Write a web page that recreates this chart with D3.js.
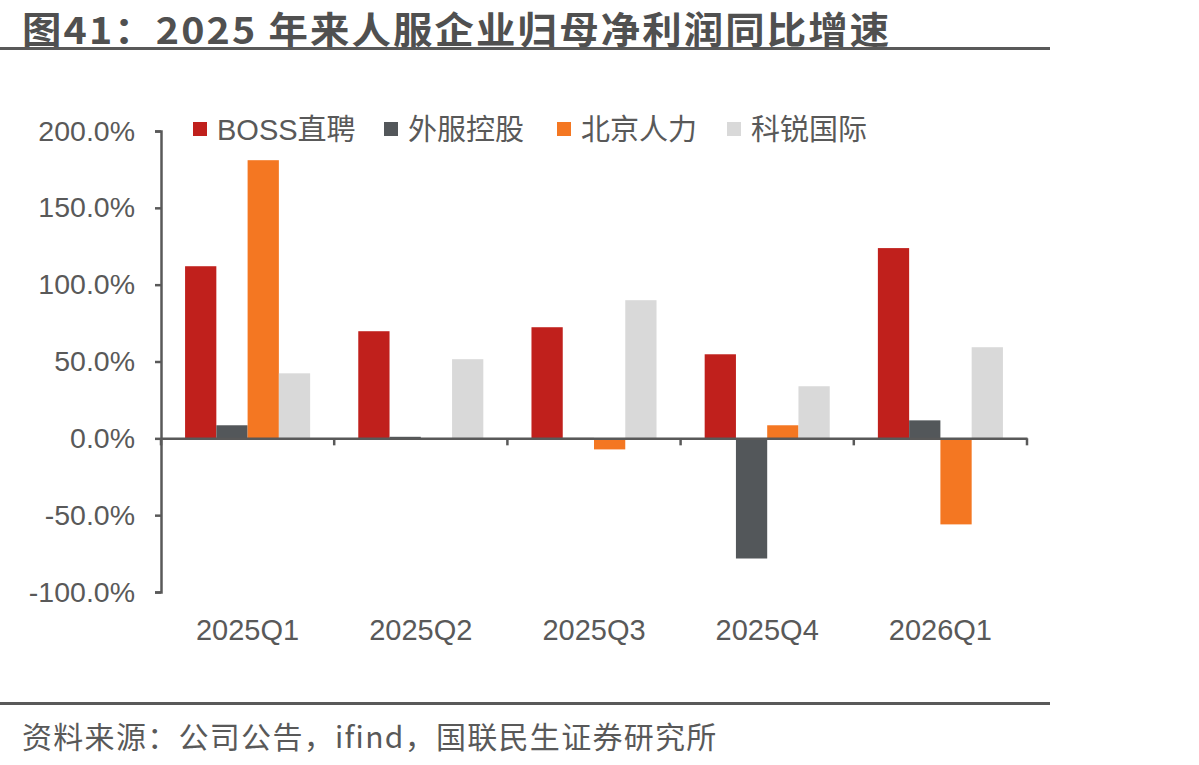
<!DOCTYPE html>
<html><head><meta charset="utf-8">
<script src="https://cdn.jsdelivr.net/npm/d3@7"></script>
<style>
html,body{margin:0;padding:0;background:#fff;}
svg text{font-family:"Liberation Sans","Noto Sans CJK SC",sans-serif;}
</style></head>
<body><svg id="c" width="1199" height="765"></svg>
<script>
const categories = ["2025Q1","2025Q2","2025Q3","2025Q4","2026Q1"];
const seriesNames = ["BOSS直聘","外服控股","北京人力","科锐国际"];
const bossValues  = [112.0, 69.7, 72.3, 54.7, 123.8];
const waifuValues = [8.5, 1.0, 0.3, -78.2, 11.7];
const bjrlValues  = [181.0, 0.0, -7.2, 8.5, -56.0];
const keruiValues = [42.3, 51.5, 89.9, 33.9, 59.3];
const yTicks = [-100, -50, 0, 50, 100, 150, 200];
const colors = ["#C0201C","#53575A","#F47722","#D9D9D9"];
const titleText = "图41：2025 年来人服企业归母净利润同比增速";
const sourceText = "资料来源：公司公告，ifind，国联民生证券研究所";

const allSeries = [bossValues, waifuValues, bjrlValues, keruiValues];
const svg = d3.select("#c");
const textColor = "#595959";
const axisColor = "#595959";

// title
svg.append("g").attr("transform","translate(22,44) scale(1.065,1)")
  .append("text").attr("x",0).attr("y",0)
  .attr("font-size",37).attr("font-weight",700).attr("fill","#505050")
  .attr("letter-spacing",2)
  .style("font-family","'Noto Sans CJK SC',sans-serif")
  .text(titleText);
svg.append("rect").attr("x",0).attr("y",47).attr("width",1050).attr("height",3).attr("fill","#595959");
svg.append("rect").attr("x",0).attr("y",702).attr("width",1050).attr("height",3).attr("fill","#595959");
svg.append("text").attr("x",22).attr("y",748)
  .attr("font-size",30).attr("fill",textColor)
  .attr("letter-spacing",1.3)
  .style("font-family","'Noto Sans CJK SC',sans-serif")
  .text(sourceText);

const left = 161, right = 1027;
const y = d3.scaleLinear().domain([-100,200]).range([592,131]);
const x0 = d3.scaleBand().domain(categories).range([left,right]).paddingInner(0).paddingOuter(0);
const x1 = d3.scaleBand().domain(seriesNames).range([0,x0.bandwidth()]).paddingInner(0).paddingOuter(0.77);

// bars
const g = svg.append("g");
categories.forEach((c,i)=>{
  seriesNames.forEach((s,j)=>{
    const v = allSeries[j][i];
    g.append("rect")
      .attr("x", x0(c)+x1(s))
      .attr("width", x1.bandwidth())
      .attr("y", y(Math.max(0,v)))
      .attr("height", Math.abs(y(v)-y(0)))
      .attr("fill", colors[j]);
  });
});

// y axis
const yAxis = d3.axisLeft(y).tickValues(yTicks).tickSize(6).tickPadding(20)
  .tickFormat(d=>d.toFixed(1)+"%");
const ya = svg.append("g").attr("transform",`translate(${left},0)`).call(yAxis);
ya.select(".domain").attr("stroke",axisColor).attr("stroke-width",2.5);
ya.selectAll(".tick line").attr("stroke",axisColor).attr("stroke-width",2.5);
ya.selectAll(".tick text").attr("fill",textColor).attr("font-size",28.5)
  .style("font-family","'Liberation Sans',sans-serif");

// x axis at zero
const xAxis = d3.axisBottom(x0).tickSize(0).tickFormat("");
const xa = svg.append("g").attr("transform",`translate(0,${y(0)})`).call(xAxis);
xa.select(".domain").attr("stroke",axisColor).attr("stroke-width",2.5);
const bounds = categories.map(c=>x0(c)).concat([right]);
xa.selectAll(".btick").data(bounds).enter().append("line")
  .attr("x1",d=>d).attr("x2",d=>d).attr("y1",0).attr("y2",7)
  .attr("stroke",axisColor).attr("stroke-width",2.5);
// category labels
svg.append("g").selectAll("text").data(categories).enter().append("text")
  .attr("x",d=>x0(d)+x0.bandwidth()/2).attr("y",640)
  .attr("text-anchor","middle").attr("font-size",29).attr("fill",textColor)
  .text(d=>d);

// legend
const legendX = [193, 384, 557, 727];
const lg = svg.append("g");
seriesNames.forEach((s,j)=>{
  lg.append("rect").attr("x",legendX[j]).attr("y",122).attr("width",14).attr("height",14).attr("fill",colors[j]);
  lg.append("text").attr("x",legendX[j]+24).attr("y",140).attr("font-size",29).attr("fill",textColor).text(s);
});
</script></body></html>
